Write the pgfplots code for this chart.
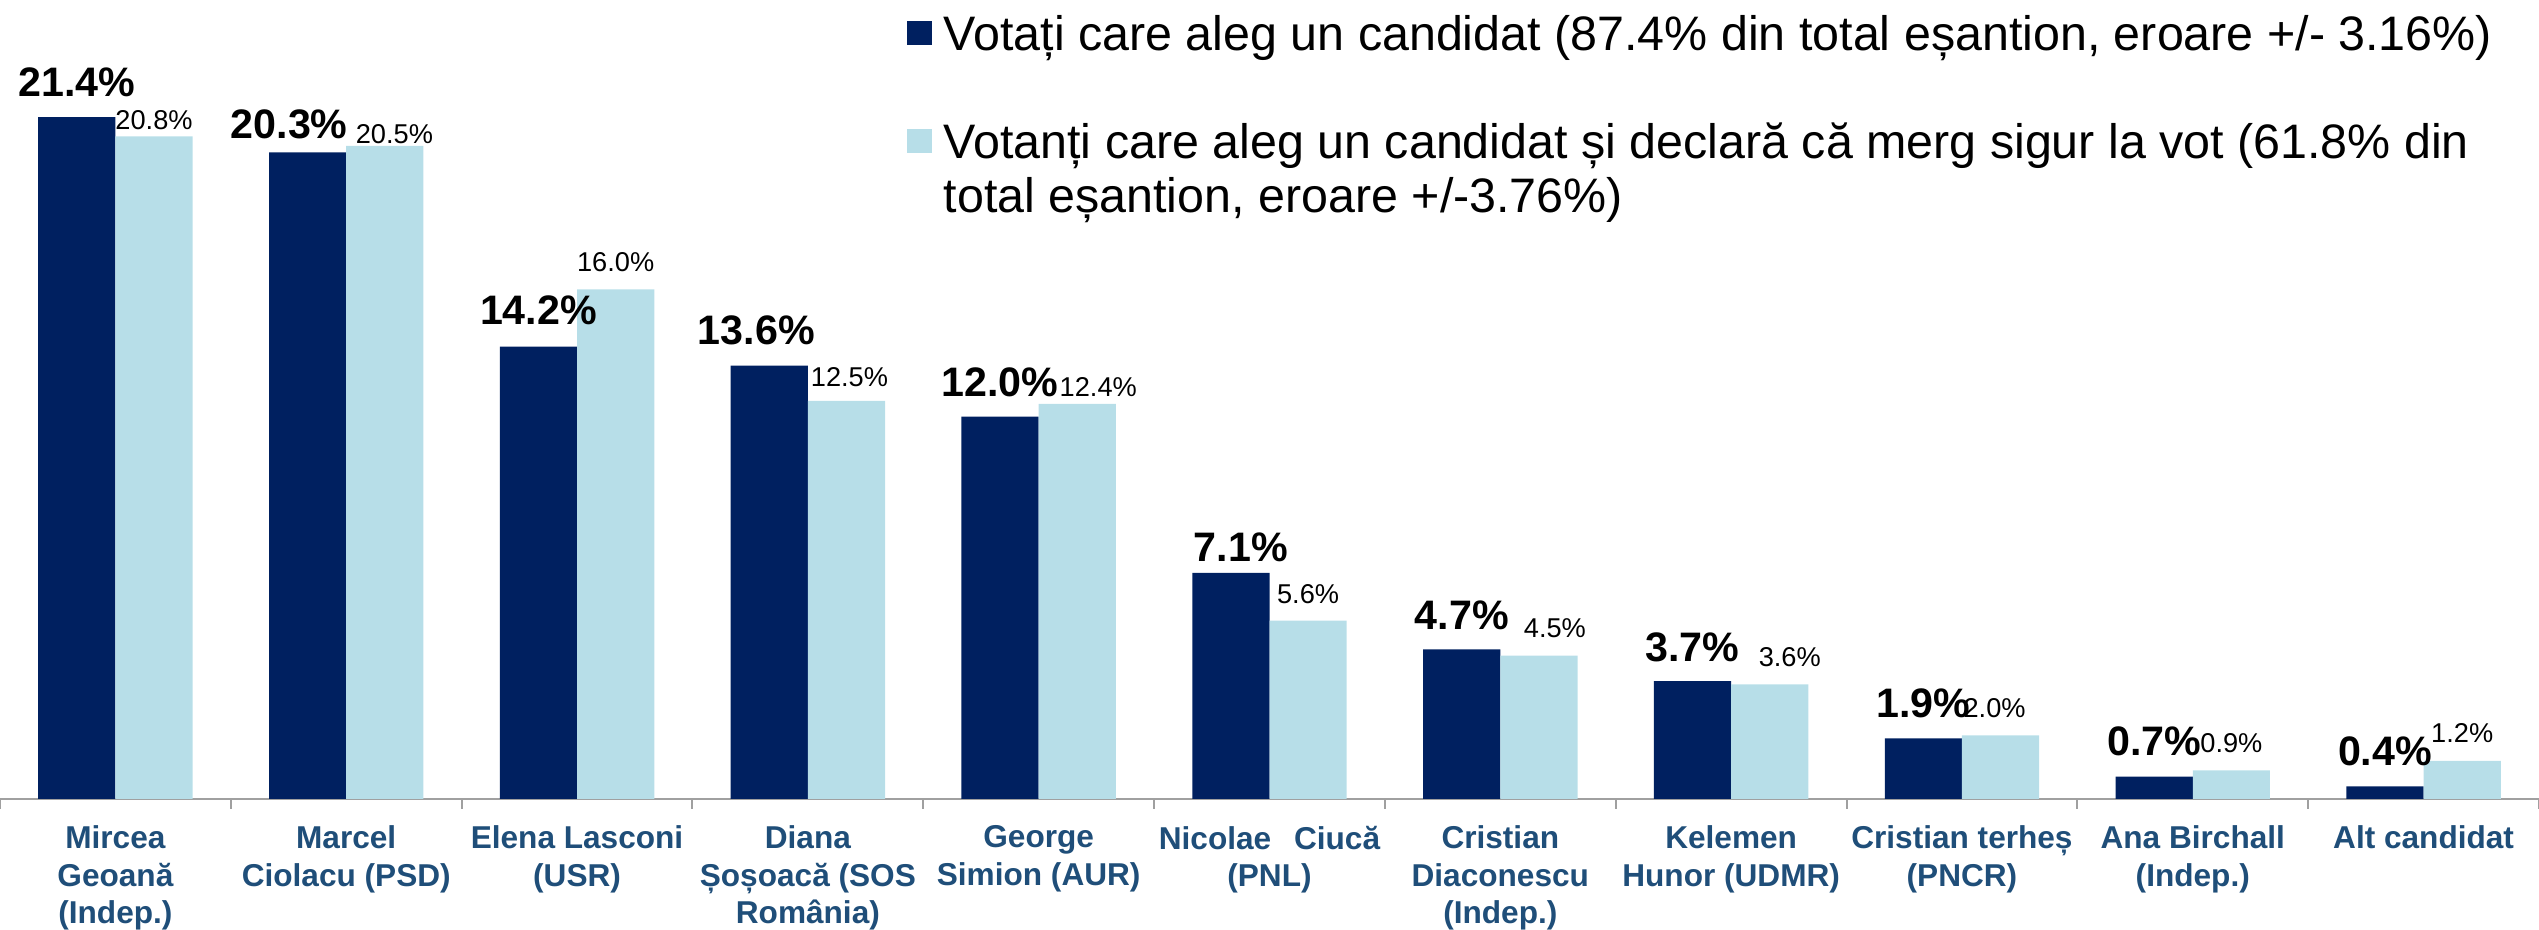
\documentclass[border=0pt]{standalone}
\usepackage{pgfplots}
\pgfplotsset{compat=1.18}
\usepackage{fontspec}
\setmainfont{Liberation Sans}
\definecolor{navy}{HTML}{002060}
\definecolor{sky}{HTML}{B7DEE8}
\definecolor{lbl}{HTML}{1F4E79}
\definecolor{axgray}{HTML}{A0A0A0}

% x, value, label shifts (pt)
\pgfplotstableread{
x y dx dy
0 21.4 0 5.25
1 20.3 -4.6 3.5
2 14.2 0 5.5
3 13.6 -3.25 5.25
4 12.0 0 5
5 7.1 2.5 2.75
6 4.7 0 5
7 3.7 0 5
8 1.9 0 5.25
9 0.7 0 5.25
10 0.4 0 5.25
}\toti
\pgfplotstableread{
x y dx dy
0 20.8 0 1.75
1 20.5 2.4 0.5
2 16.0 0 4.5
3 12.5 0.75 3.5
4 12.4 5.25 1.75
5 5.6 0 4.25
6 4.5 4 4.5
7 3.6 5 4.5
8 2.0 -1.5 4.5
9 0.9 0 4.5
10 1.2 0 4.5
}\siguri

\begin{document}
\begin{tikzpicture}
\begin{axis}[
  scale only axis, width=634.75pt, height=199.75pt,
  xmin=-0.5, xmax=10.5, ymin=0, ymax=25.08,
  ybar, bar width=19.3pt,
  axis y line=none, axis x line*=bottom,
  x axis line style={axgray, line width=0.5pt},
  xtick={0,...,10}, major tick length=0pt,
  minor xtick={-0.5,0.5,...,10.5}, minor tick length=2.5pt,
  xtick align=outside,
  minor tick style={axgray, line width=0.5pt},
  xticklabels={
    {Mircea\\Geoană\\(Indep.)},
    {Marcel\\Ciolacu (PSD)},
    {Elena Lasconi\\(USR)},
    {Diana\\Șoșoacă (SOS\\România)},
    {George\\Simion (AUR)},
    {Nicolae\hspace{5.7pt}Ciucă\\(PNL)},
    {Cristian\\Diaconescu\\(Indep.)},
    {Kelemen\\Hunor (UDMR)},
    {Cristian terheș\\(PNCR)},
    {Ana Birchall\\(Indep.)},
    {Alt candidat}},
  xticklabel style={align=center, inner sep=0pt, text=lbl,
    font=\fontsize{7.9}{9.375}\selectfont\bfseries, yshift=-6.5pt},
  clip=false,
  legend style={draw=none, fill=none, inner sep=0pt,
    at={(0.3568,0.9825)}, anchor=north west,
    font=\fontsize{12.1}{14}\selectfont,
    nodes={inner sep=0pt, text height=9pt, text depth=2.5pt},
    row sep=2pt},
  legend cell align=left,
  legend image code/.code={\fill[#1] (0pt,-1.75pt) rectangle (6.25pt,4.25pt); \path (9.25pt,0pt);},
  point meta=y,
  nodes near coords={\pgfmathprintnumber[fixed,fixed zerofill,precision=1,assume math mode=true]{\pgfplotspointmeta}\%},
]
\addplot[bar shift=-9.65pt, fill=navy, draw=none,
  visualization depends on={\thisrow{dx} \as \lblx},
  visualization depends on={\thisrow{dy} \as \lbly},
  every node near coord/.append style={font=\fontsize{10.3}{12}\selectfont\bfseries,
    anchor=base, inner sep=0pt, xshift=\lblx pt, yshift=\lbly pt, text=black}]
  table[x=x, y=y] {\toti};
\addlegendentry{Votați care aleg un candidat (87.4\% din total eșantion, eroare +/- 3.16\%)}
\addlegendimage{empty legend}
\addlegendentry{}
\addplot[bar shift=9.65pt, fill=sky, draw=none,
  visualization depends on={\thisrow{dx} \as \lblx},
  visualization depends on={\thisrow{dy} \as \lbly},
  every node near coord/.append style={font=\fontsize{6.8}{8}\selectfont,
    anchor=base, inner sep=0pt, xshift=\lblx pt, yshift=\lbly pt, text=black}]
  table[x=x, y=y] {\siguri};
\addlegendentry{Votanți care aleg un candidat și declară că merg sigur la vot (61.8\% din}
\addlegendimage{empty legend}
\addlegendentry{total eșantion, eroare +/-3.76\%)}
\end{axis}
\pgfresetboundingbox
\useasboundingbox (0pt,-32.75pt) rectangle (634.75pt,199.75pt);
\end{tikzpicture}
\end{document}
